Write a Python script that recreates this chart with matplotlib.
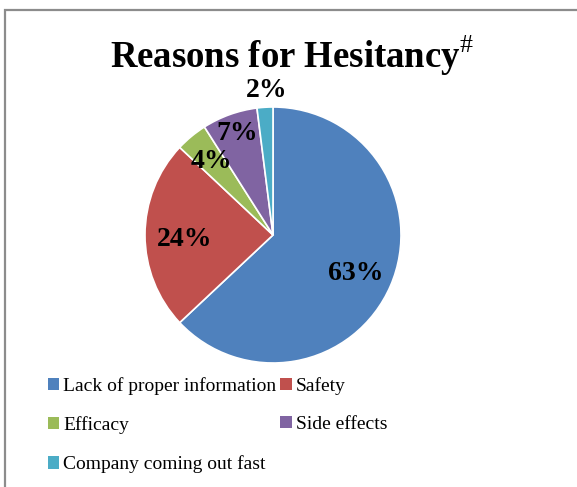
import numpy as np
import matplotlib
matplotlib.use("Agg")
import matplotlib.pyplot as plt
from matplotlib.patches import Rectangle, Patch

# data
reasons = ["Lack of proper information", "Safety", "Efficacy", "Side effects",
           "Company coming out fast"]
shares = [63, 24, 4, 7, 2]
colors = ["#4F81BD", "#C0504D", "#9BBB59", "#8064A2", "#4BACC6"]
label_dist = [0.68, 0.71, 0.79, 0.88, 1.16]

plt.rcParams["mathtext.fontset"] = "custom"
plt.rcParams["mathtext.rm"] = "Liberation Serif"

fig = plt.figure(figsize=(5.77, 4.87), dpi=100)
W, H = 577, 487

# outer chart frame (cut off at right and bottom)
fig.patches.append(Rectangle((5 / W, -0.05), 1.0, 1 - 10 / H + 0.05,
                             transform=fig.transFigure, fill=False,
                             edgecolor="#8c8c8c", linewidth=1.6))

R = 128
cx, cy = 273, 235
ax = fig.add_axes([(cx - R) / W, 1 - (cy + R) / H, 2 * R / W, 2 * R / H])
wedges, _ = ax.pie(shares, colors=colors, startangle=90, counterclock=False,
                   wedgeprops=dict(edgecolor="white", linewidth=1.2))
ax.set_xlim(-1, 1)
ax.set_ylim(-1, 1)
ax.set_aspect("equal")

for w, v, d in zip(wedges, shares, label_dist):
    mid = np.deg2rad((w.theta1 + w.theta2) / 2)
    ax.annotate(f"{v}%", (d * np.cos(mid), d * np.sin(mid)), xytext=(2, -3),
                textcoords="offset points", ha="center", va="center",
                fontsize=20, fontweight="bold", family="Liberation Serif",
                annotation_clip=False)

fig.text(292 / W, 1 - 56 / H, r"Reasons for Hesitancy$^{\#}$", ha="center",
         va="center", fontsize=26.5, fontweight="bold", family="Liberation Serif")

# legend filled row by row like the original
order = [0, 2, 4, 1, 3]
handles = [Patch(facecolor=colors[i]) for i in order]
labels = [reasons[i] for i in order]
fig.legend(handles, labels, loc="upper left", bbox_to_anchor=(40 / W, 1 - 369 / H),
           ncol=2, frameon=False, prop=dict(family="Liberation Serif", size=14),
           handlelength=0.6, handleheight=0.6, handletextpad=0.2,
           columnspacing=0.2, labelspacing=1.1, borderaxespad=0)

fig.savefig("out.png", dpi=100)
